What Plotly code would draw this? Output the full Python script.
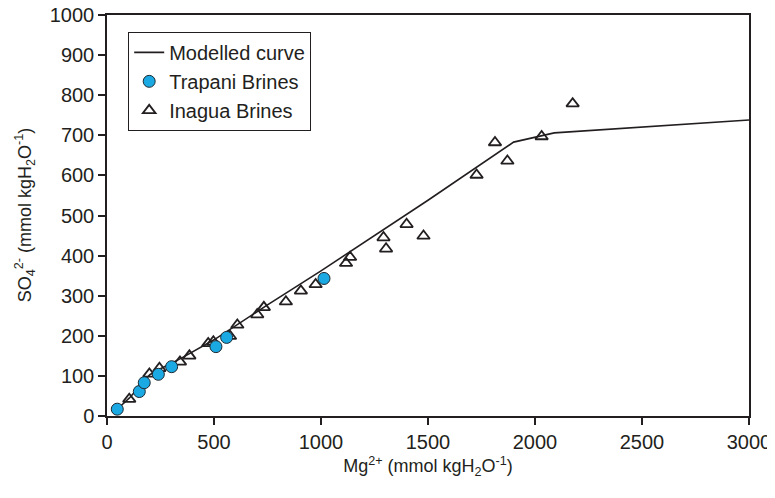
import plotly.graph_objects as go

# modelled curve (Mg vs SO4, mmol/kg H2O)
curve_mg = [50, 105, 200, 250, 350, 500, 750, 1000, 1500, 1900, 2090, 3000]
curve_so4 = [18, 45, 103, 118, 145, 190, 277, 362, 538, 683, 706, 738]

# Trapani brines
trapani_mg = [48, 151, 174, 240, 302, 509, 559, 1014]
trapani_so4 = [17, 61, 83, 104, 123, 173, 196, 343]

# Inagua brines
inagua_mg = [104, 198, 245, 341, 385, 473, 497, 575, 609, 702, 733, 836, 906, 975,
             1117, 1136, 1292, 1304, 1400, 1479, 1727, 1813, 1871, 2031, 2176]
inagua_so4 = [42, 105, 119, 135, 150, 181, 185, 199, 227, 253, 271, 285, 312, 328,
              381, 396, 445, 417, 478, 449, 601, 682, 636, 697, 779]

ink = '#231f20'
font = 'Liberation Sans, Arial, sans-serif'

fig = go.Figure()
fig.add_trace(go.Scatter(x=curve_mg, y=curve_so4, mode='lines', name='Modelled curve',
                         line=dict(color=ink, width=1.6), legendrank=1))
fig.add_trace(go.Scatter(x=inagua_mg, y=inagua_so4, mode='markers', name='Inagua Brines',
                         marker=dict(symbol='triangle-up-open', size=11,
                                     color=ink, line=dict(width=1.8, color=ink)),
                         legendrank=3))
fig.add_trace(go.Scatter(x=trapani_mg, y=trapani_so4, mode='markers', name='Trapani Brines',
                         marker=dict(symbol='circle', size=12, color='#1aa9e2',
                                     line=dict(width=1, color='#1d2a33')),
                         legendrank=2))

axis = dict(showline=True, linecolor=ink, linewidth=1.5, mirror=True,
            ticks='outside', ticklen=7, tickwidth=1.5, tickcolor=ink,
            showgrid=False, zeroline=False, automargin=False,
            ticklabeloverflow='allow',
            tickfont=dict(size=20, color=ink, family=font))

# page body has an 8px margin, so the figure is a bit smaller than the window
fig.update_layout(
    width=767, height=490,
    margin=dict(l=99, r=26, t=7, b=82),
    plot_bgcolor='white', paper_bgcolor='white',
    font=dict(family=font, color=ink, size=18),
    xaxis=dict(range=[0, 3000], dtick=500,
               title=dict(text='Mg<sup>2+</sup> (mmol kgH<sub>2</sub>O<sup>-1</sup>)',
                          font=dict(size=18), standoff=8),
               **axis),
    yaxis=dict(range=[0, 1000], dtick=100, **axis),
    legend=dict(x=0.033, y=0.958, xanchor='left', yanchor='top',
                bordercolor=ink, borderwidth=1, bgcolor='white',
                font=dict(size=20, color=ink), traceorder='normal',
                itemwidth=30),
    showlegend=True,
)

# y title as an annotation so it sits where the original has it
fig.add_annotation(text='SO<sub>4</sub><sup>2-</sup> (mmol kgH<sub>2</sub>O<sup>-1</sup>)',
                   xref='paper', yref='paper', x=-0.128, y=0.5,
                   xanchor='center', yanchor='middle', textangle=-90,
                   showarrow=False, font=dict(size=18, color=ink))

fig.write_html("out.html")
